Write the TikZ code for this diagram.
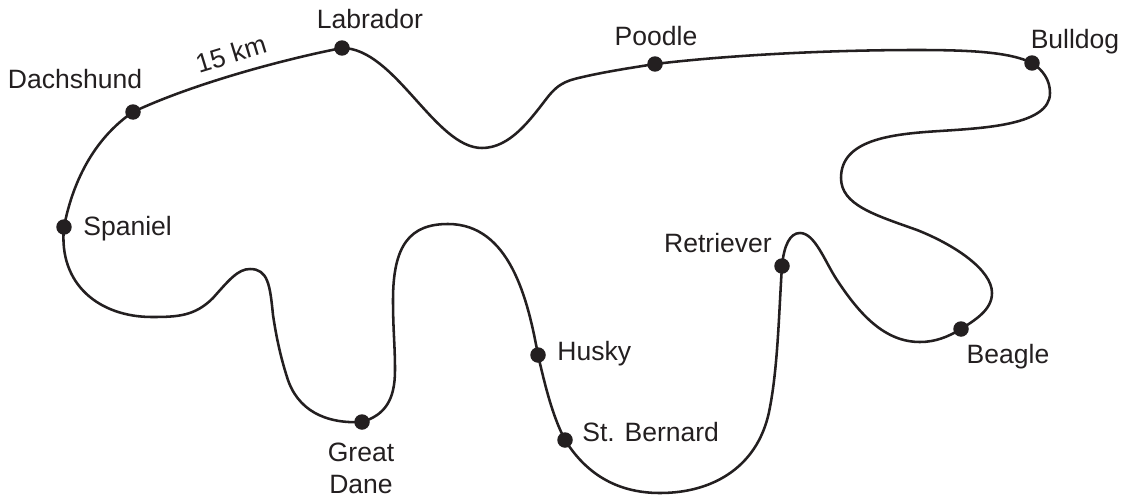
\documentclass[tikz,border=0pt]{standalone}
\usepackage{fontspec}
\setmainfont{Liberation Sans}
\definecolor{ink}{HTML}{231F20}
\tikzset{
  stop/.style={circle,fill=ink,inner sep=0pt,minimum size=0.31cm},
  lbl/.style={font=\fontsize{15.1pt}{18.1pt}\selectfont,text=ink,inner sep=0pt,align=center,anchor=base},
  road/.style={draw=ink,line width=1.45pt}
}
\begin{document}
\begin{tikzpicture}[x=0.02cm,y=-0.02cm]
    \useasboundingbox (0,0) rectangle (1125,497);
    % stops
    \node[stop] (spaniel) at (64,227) {};
    \node[stop] (dachshund) at (133,112) {};
    \node[stop] (labrador) at (342,48) {};
    \node[stop] (poodle) at (655,64) {};
    \node[stop] (bulldog) at (1032,63) {};
    \node[stop] (beagle) at (961,329) {};
    \node[stop] (retriever) at (782,266) {};
    \node[stop] (stbernard) at (565,440) {};
    \node[stop] (husky) at (538,355) {};
    \node[stop] (greatdane) at (362,422) {};
    % turning points of the road
    \coordinate (dip) at (482,148);
    \coordinate (rise) at (547,98);
    \coordinate (shoulder) at (587,76);
    \coordinate (crest) at (917,50);
    \coordinate (east) at (1050,93);
    \coordinate (flat) at (940,131);
    \coordinate (bend) at (841,178);
    \coordinate (slope) at (917,230);
    \coordinate (rim) at (992,293);
    \coordinate (hollow) at (920,342);
    \coordinate (climb) at (837,280);
    \coordinate (peakr) at (800,233);
    \coordinate (shaft) at (770,407);
    \coordinate (south) at (660,493);
    \coordinate (top) at (448,224);
    \coordinate (midr) at (393,300);
    \coordinate (midq) at (395,370);
    \coordinate (sidea) at (287,377);
    \coordinate (sideb) at (273,315);
    \coordinate (peakl) at (250,269);
    \coordinate (flank) at (213,298);
    \coordinate (low) at (152,317);
    % labels
    \node[lbl,anchor=base west] (spaniellbl) at (83,235) {Spaniel};
    \node[lbl] (dachshundlbl) at (75,88) {Dachshund};
    \node[lbl] (labradorlbl) at (370,29) {Labrador};
    \node[lbl] (poodlelbl) at (656,45) {Poodle};
    \node[lbl] (bulldoglbl) at (1075,48) {Bulldog};
    \node[lbl] (beaglelbl) at (1008,363) {Beagle};
    \node[lbl] (retrieverlbl) at (718,252) {Retriever};
    \node[lbl,anchor=base west] (stbernardlbl) at (582,441) {St. Bernard};
    \node[lbl,anchor=base west] (huskylbl) at (557,360) {Husky};
    \node[lbl] (greatdanelbl) at (361,493) {Great\\Dane};
    \node[lbl,anchor=center,rotate=17] (dist) at (231,54) {15 km};
    % road
    \draw[road] (spaniel.center)
      .. controls (72,185) and (92,140) .. (dachshund.center)
      .. controls (190,85) and (280,60) .. (labrador.center)
      .. controls (395,48) and (435,148) .. (dip)
      .. controls (510,148) and (530,120) .. (rise)
      .. controls (560,81) and (570,80) .. (shoulder)
      .. controls (610,71) and (630,68) .. (poodle.center)
      .. controls (730,55) and (830,50) .. (crest)
      .. controls (970,50) and (1010,52) .. (bulldog.center)
      .. controls (1043,70) and (1050,80) .. (east)
      .. controls (1050,125) and (985,128) .. (flat)
      .. controls (890,134) and (841,140) .. (bend)
      .. controls (841,205) and (875,215) .. (slope)
      .. controls (955,245) and (992,270) .. (rim)
      .. controls (992,310) and (975,320) .. (beagle.center)
      .. controls (948,337) and (935,342) .. (hollow)
      .. controls (885,342) and (860,315) .. (climb)
      .. controls (825,262) and (815,233) .. (peakr)
      .. controls (790,233) and (784,245) .. (retriever.center)
      .. controls (779,310) and (778,365) .. (shaft)
      .. controls (760,465) and (715,493) .. (south)
      .. controls (615,493) and (585,472) .. (stbernard.center)
      .. controls (552,415) and (545,385) .. (husky.center)
      .. controls (528,300) and (510,224) .. (top)
      .. controls (410,224) and (393,245) .. (midr)
      .. controls (393,330) and (395,345) .. (midq)
      .. controls (395,400) and (385,415) .. (greatdane.center)
      .. controls (325,424) and (297,410) .. (sidea)
      .. controls (280,355) and (276,335) .. (sideb)
      .. controls (270,285) and (268,269) .. (peakl)
      .. controls (238,269) and (229,280) .. (flank)
      .. controls (195,316) and (178,317) .. (low)
      .. controls (100,317) and (58,285) .. (spaniel.center);
\end{tikzpicture}
\end{document}
